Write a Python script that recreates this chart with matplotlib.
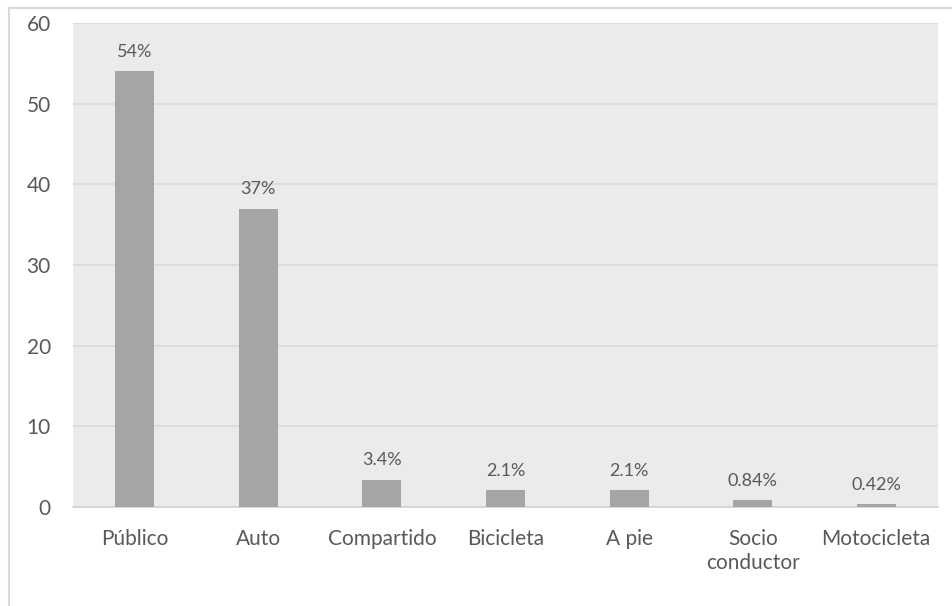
import numpy as np
import matplotlib
matplotlib.use("Agg")
import matplotlib.pyplot as plt
from matplotlib.lines import Line2D

# transport mode share (%)
categories = ["Público", "Auto", "Compartido", "Bicicleta", "A pie", "Socio\nconductor", "Motocicleta"]
values = [54, 37, 3.4, 2.1, 2.1, 0.84, 0.42]
value_labels = ["54%", "37%", "3.4%", "2.1%", "2.1%", "0.84%", "0.42%"]
yticks = [0, 10, 20, 30, 40, 50, 60]

plt.rcParams["font.family"] = ["Lato", "DejaVu Sans"]
text_color = "#595959"

fig = plt.figure(figsize=(9.53, 6.06), dpi=100)
ax = fig.add_axes([73 / 953, 1 - 507 / 606, (938 - 73) / 953, (507 - 23) / 606])
ax.set_facecolor("#EBEBEB")

x = np.arange(len(categories))
bars = ax.bar(x, values, width=0.315, color="#A5A5A5", zorder=3)

for rect, lab in zip(bars, value_labels):
    ax.annotate(lab, (rect.get_x() + rect.get_width() / 2, rect.get_height()),
                xytext=(0, 8), textcoords="offset points", ha="center", va="bottom",
                fontsize=13, color=text_color)

ax.set_xlim(-0.5, len(categories) - 0.5)
ax.set_ylim(0, 60)
ax.set_yticks(yticks)
ax.yaxis.grid(True, color="#D9D9D9", linewidth=1.2, zorder=0)
ax.set_axisbelow(True)
for side in ["top", "right", "left"]:
    ax.spines[side].set_visible(False)
ax.spines["bottom"].set_color("#D0D0D0")
ax.spines["bottom"].set_linewidth(1.2)

ax.set_xticks(x)
ax.set_xticklabels(categories, fontsize=15, color=text_color, linespacing=1.25, va="top")
ax.tick_params(axis="x", length=0, pad=16)
ax.tick_params(axis="y", length=0, pad=16, labelsize=15, labelcolor=text_color)

# outer frame, only left and top edges are visible
fig.add_artist(Line2D([9 / 953, 9 / 953], [0, 1 - 8 / 606], transform=fig.transFigure,
                      color="#D9D9D9", linewidth=1.5))
fig.add_artist(Line2D([9 / 953, 1], [1 - 8 / 606, 1 - 8 / 606], transform=fig.transFigure,
                      color="#D9D9D9", linewidth=1.5))

fig.savefig("out.png", dpi=100)
